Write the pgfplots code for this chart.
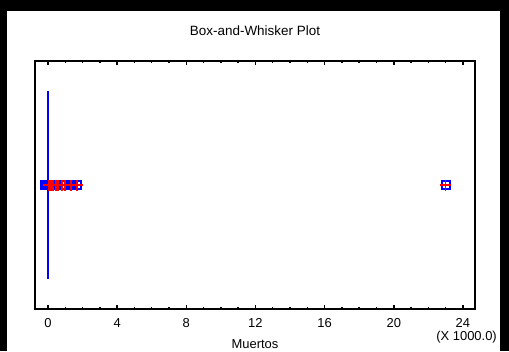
\documentclass[border=0pt]{standalone}
\usepackage{pgfplots}
\pgfplotsset{compat=1.18}
\usepgfplotslibrary{statistics}
\usepackage{fontspec}
\setmainfont{Liberation Sans}
\begin{document}
\begin{tikzpicture}[x=1bp,y=1bp]
\fill[black] (0,0) rectangle (509,351);
\fill[white] (7,0) rectangle (500,340);
\begin{axis}[
  at={(35bp,42bp)}, anchor=south west,
  scale only axis, width=440bp, height=248bp,
  xmin=-0.75, xmax=24.7, ymin=0, ymax=2,
  axis line style={line width=1.8bp},
  xtick={0,4,...,24}, minor x tick num=3,
  ytick=\empty,
  tick align=inside, xtick pos=both,
  major tick length=4bp, minor tick length=2.5bp,
  every tick/.style={black, line width=1.5bp},
  tick label style={font=\fontsize{13}{15}\selectfont},
  /pgf/number format/assume math mode=true,
  xticklabel style={yshift=-6bp},
  clip=false,
]
\addplot[blue, line width=2.6bp,
  boxplot prepared={draw direction=x, lower whisker=0, lower quartile=0.003,
    median=0.006, upper quartile=0.012, upper whisker=0.03,
    draw position=1, box extend=1.5, whisker extend=0}]
  coordinates {};
\addplot[only marks, mark=square, mark size=4bp, blue, line width=1.9bp]
  coordinates {(-0.15,1) (-0.05,1) (0.05,1) (0.12,1) (0.2,1) (0.29,1) (0.45,1) (0.58,1) (0.8,1) (0.98,1) (1.33,1) (1.68,1) (23.0,1)};
\addplot[only marks, mark=+, mark size=5.5bp, red, line width=1.7bp]
  coordinates {(0.05,1) (0.12,1) (0.2,1) (0.29,1) (0.45,1) (0.58,1) (0.8,1) (0.98,1) (1.33,1) (1.68,1) (23.0,1)};
\end{axis}
\node[font=\fontsize{13.5}{15}\selectfont] at (255,320) {Box-and-Whisker Plot};
\node[font=\fontsize{13}{15}\selectfont, anchor=east, inner sep=0pt] at (497,14) {(X 1000.0)};
\node[font=\fontsize{13}{15}\selectfont, anchor=base, inner sep=0pt] at (255,3) {Muertos};
\pgfresetboundingbox
\useasboundingbox (0,0) rectangle (509,351);
\end{tikzpicture}
\end{document}
